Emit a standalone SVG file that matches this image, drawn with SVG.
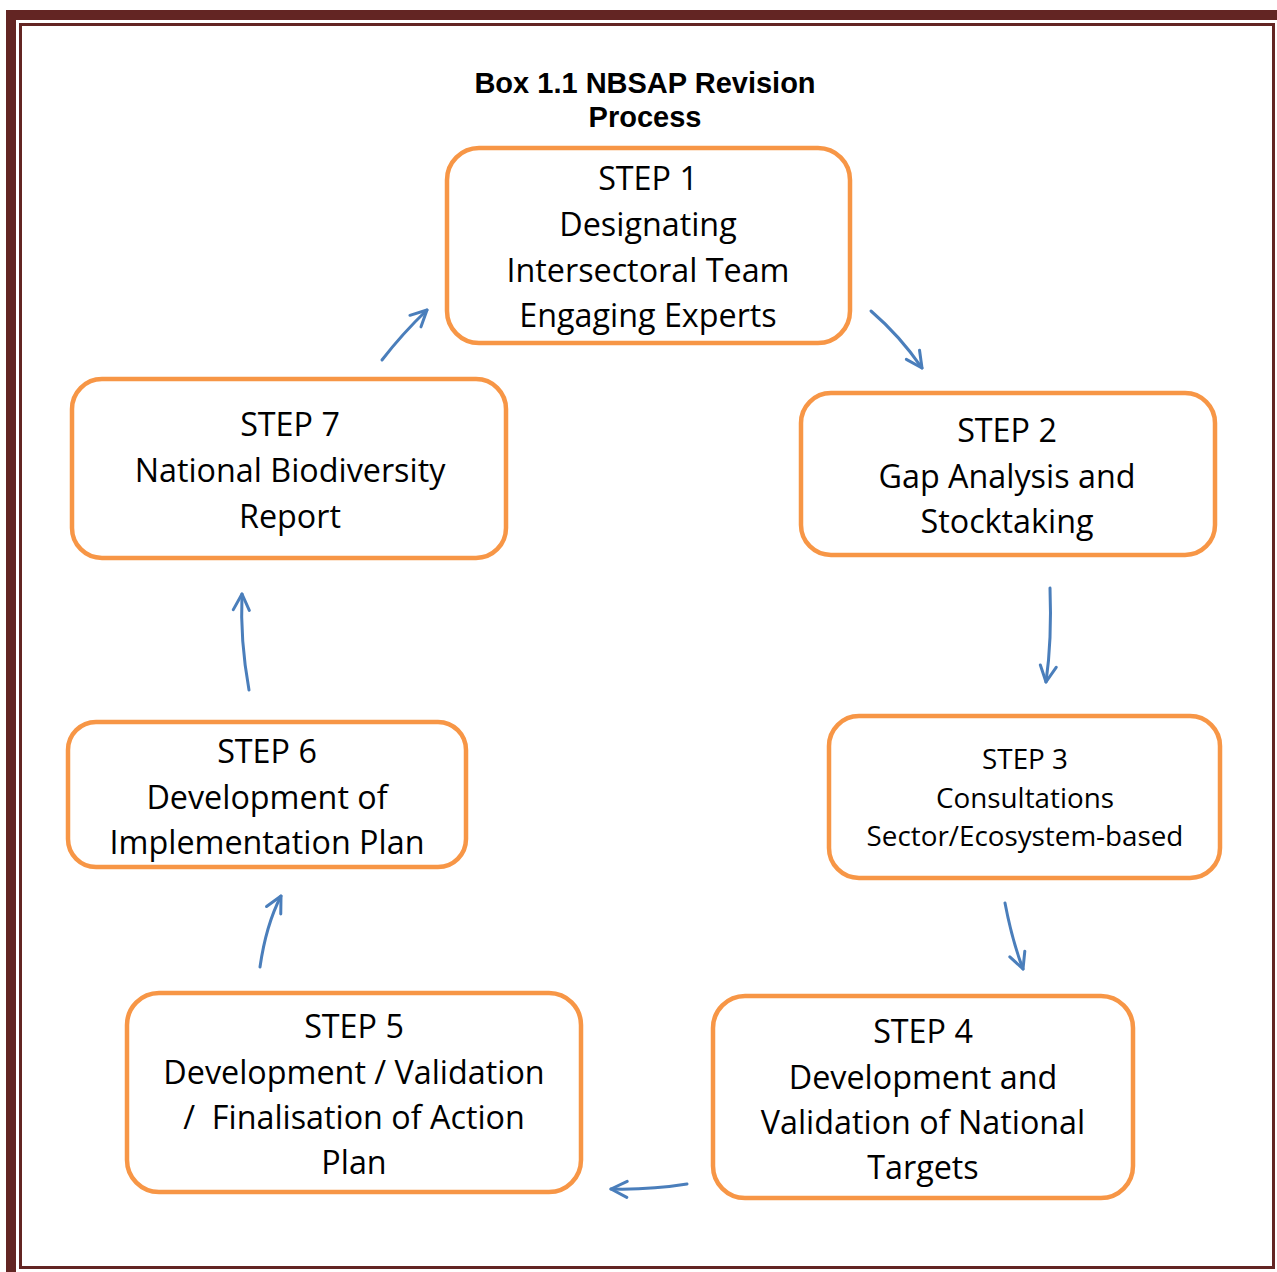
<svg xmlns="http://www.w3.org/2000/svg" width="1277" height="1272" viewBox="0 0 1277 1272">
<defs>
<style>
.box{fill:#fff;stroke:#F79646;stroke-width:4.5}
.t{font-family:"Open Sans","Noto Sans",sans-serif;font-size:32.3px;fill:#000;text-anchor:middle}
.s{font-size:27.8px}
.title{font-family:"Liberation Sans",Arial,sans-serif;font-weight:bold;font-size:29px;fill:#000;text-anchor:middle}
.arr{fill:none;stroke:#4A7EBB;stroke-width:3;stroke-linecap:round;marker-end:url(#ah)}
</style>
<marker id="ah" viewBox="0 0 20 20" refX="18" refY="10" markerWidth="20" markerHeight="20" markerUnits="userSpaceOnUse" orient="auto">
<path d="M2,2 L18,10 L2,18" fill="none" stroke="#4A7EBB" stroke-width="3" stroke-linecap="round" stroke-linejoin="round"/>
</marker>
</defs>
<rect width="1277" height="1272" fill="#fff"/>
<g id="frame">
<rect x="6" y="10" width="1271" height="10" fill="#632523"/>
<rect x="6" y="10" width="10" height="1262" fill="#632523"/>
<rect x="20.5" y="24.5" width="1253" height="1243" fill="none" stroke="#632523" stroke-width="3"/>
</g>
<g id="title">
<text class="title" x="645" y="93">Box 1.1 NBSAP Revision</text>
<text class="title" x="645" y="127">Process</text>
</g>
<g id="connectors">
<path class="arr" d="M382,360 Q402,334 427,310"/>
<path class="arr" d="M871,311 Q900,336 922,368"/>
<path class="arr" d="M1050,588 Q1052,640 1046,682"/>
<path class="arr" d="M1005,903 Q1012,940 1023,969"/>
<path class="arr" d="M687,1184 Q650,1190 611,1189"/>
<path class="arr" d="M260,967 Q266,925 281,896"/>
<path class="arr" d="M249,690 Q240,640 242,594"/>
</g>
<g id="step1">
<rect class="box" x="447" y="148" width="403" height="195" rx="32"/>
<text class="t" x="648" y="190">STEP 1</text>
<text class="t" x="648" y="236">Designating</text>
<text class="t" x="648" y="282">Intersectoral Team</text>
<text class="t" x="648" y="327">Engaging Experts</text>
</g>
<g id="step2">
<rect class="box" x="801" y="393" width="414" height="162" rx="30"/>
<text class="t" x="1007" y="442">STEP 2</text>
<text class="t" x="1007" y="488">Gap Analysis and</text>
<text class="t" x="1007" y="533">Stocktaking</text>
</g>
<g id="step3">
<rect class="box" x="829" y="716" width="391" height="162" rx="30"/>
<text class="t s" x="1025" y="769">STEP 3</text>
<text class="t s" x="1025" y="808">Consultations</text>
<text class="t s" x="1025" y="846">Sector/Ecosystem-based</text>
</g>
<g id="step4">
<rect class="box" x="713" y="996" width="420" height="202" rx="32"/>
<text class="t" x="923" y="1043">STEP 4</text>
<text class="t" x="923" y="1089">Development and</text>
<text class="t" x="923" y="1134">Validation of National</text>
<text class="t" x="923" y="1179">Targets</text>
</g>
<g id="step5">
<rect class="box" x="127" y="993" width="454" height="199" rx="32"/>
<text class="t" x="354" y="1038">STEP 5</text>
<text class="t" x="354" y="1084">Development / Validation</text>
<text class="t" x="354" y="1129" xml:space="preserve">/  Finalisation of Action</text>
<text class="t" x="354" y="1174">Plan</text>
</g>
<g id="step6">
<rect class="box" x="68" y="722" width="398" height="145" rx="28"/>
<text class="t" x="267" y="763">STEP 6</text>
<text class="t" x="267" y="809">Development of</text>
<text class="t" x="267" y="854">Implementation Plan</text>
</g>
<g id="step7">
<rect class="box" x="72" y="379" width="434" height="179" rx="30"/>
<text class="t" x="290" y="436">STEP 7</text>
<text class="t" x="290" y="482">National Biodiversity</text>
<text class="t" x="290" y="528">Report</text>
</g>
</svg>
